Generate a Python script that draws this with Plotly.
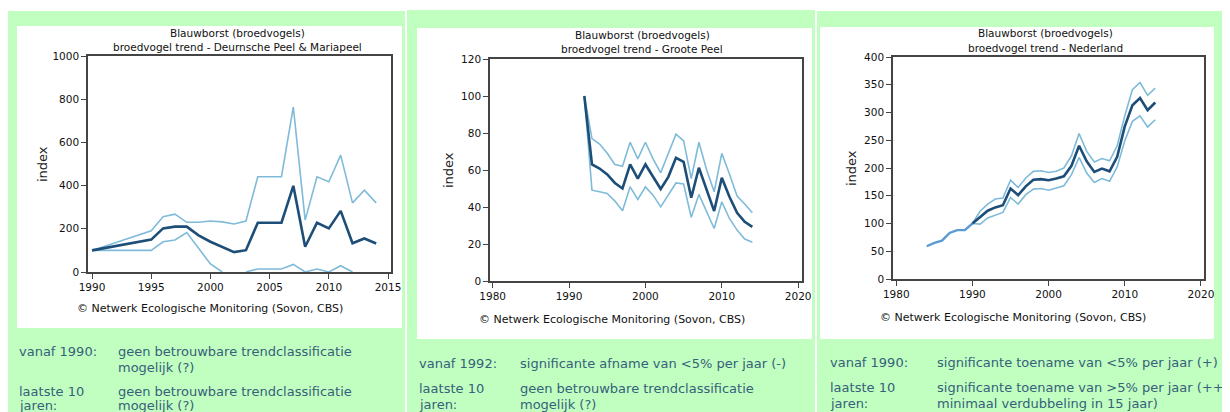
import plotly.graph_objects as go

W, H = 1230, 412
# the page body adds an 8px margin; draw everything 8px up/left to compensate
OFFX, OFFY = 8, 8

# ---------------- data ----------------
p1_years = [1990, 1995, 1996, 1997, 1998, 1999, 2000, 2001, 2002, 2003, 2004, 2005,
            2006, 2007, 2008, 2009, 2010, 2011, 2012, 2013, 2014]
p1_main = [100, 150, 202, 210, 210, 170, 140, 115, 92, 101, 228, 228, 228, 399, 117,
           228, 202, 283, 133, 155, 132]
p1_upper = [100, 191, 256, 268, 230, 230, 236, 232, 222, 236, 441, 441, 441, 764, 240,
            441, 418, 541, 320, 379, 320]
# None = below the axis (not visible in the chart)
p1_lower = [100, 100, 140, 148, 183, 108, 37, 0, None, 0, 14, 14, 14, 35, 0, 14, 0, 29, 0,
            None, None]

p2_years = list(range(1992, 2015))
p2_main = [100, 63, 60.8, 57.6, 53, 50, 63, 55.4, 63, 56.3, 49.7, 56.3, 66.6, 64.4, 45,
           61.2, 49.1, 37.8, 55.8, 45.5, 36.9, 32, 29.3]
p2_upper = [100, 77, 74, 69, 63, 62, 75, 66, 75, 66, 58.5, 69, 79.4, 75.7, 55.4, 75, 60.3,
            48.2, 69, 57.8, 45.9, 41.6, 36.9]
p2_lower = [100, 49.1, 48.2, 47.3, 43.2, 38, 50.9, 44.1, 50.9, 46.4, 40.1, 46.4, 53, 52.4,
            34.4, 46.8, 37.4, 28.4, 42.8, 33.8, 27.5, 22.7, 20.9]

p3_years = list(range(1984, 2015))
p3_main = [59, 65, 69, 83, 88, 88, 100, 111, 123, 129, 133, 163, 151, 167, 179, 180, 178,
           181, 185, 204, 240, 212, 193, 199, 194, 220, 275, 313, 326, 304, 318]
p3_ci_years = list(range(1990, 2015))
p3_upper = [100, 122, 135, 144, 146, 178, 165, 182, 194, 195, 192, 194, 200, 222, 262, 230,
            211, 217, 213, 240, 294, 341, 354, 331, 344]
p3_lower = [100, 99, 110, 115, 120, 147, 135, 152, 162, 163, 160, 164, 168, 188, 219, 191,
            174, 181, 176, 202, 249, 284, 294, 274, 287]

title_top = "Blauwborst (broedvogels)"
subtitles = ["broedvogel trend - Deurnsche Peel & Mariapeel",
             "broedvogel trend - Groote Peel",
             "broedvogel trend - Nederland"]
copyright_txt = "© Netwerk Ecologische Monitoring (Sovon, CBS)"

# ---------------- style ----------------
DARK = "#1d4e78"
LIGHT = "#7fbbd9"
EARLY = "#5b9bd5"
GREEN = "#c0ffc0"
TXT = "#37607a"
FONT = "DejaVu Sans"

def fx(px):
    return (px - OFFX) / W

def fy(py):
    return 1 - (py - OFFY) / H

fig = go.Figure()

panels = [
    dict(l=88, r=391, t=56, b=272, xr=[1989.66, 2015.25], yr=[0, 1000],
         xt=[1990, 1995, 2000, 2005, 2010, 2015], yt=list(range(0, 1001, 200))),
    dict(l=490, r=802, t=59, b=281, xr=[1979.65, 2020.5], yr=[0, 120],
         xt=[1980, 1990, 2000, 2010, 2020], yt=list(range(0, 121, 20))),
    dict(l=893, r=1204, t=57, b=279, xr=[1979.57, 2020.4], yr=[0, 400],
         xt=[1980, 1990, 2000, 2010, 2020], yt=list(range(0, 401, 50))),
]

series = [
    (p1_years, p1_main, p1_years, p1_upper, p1_lower),
    (p2_years, p2_main, p2_years, p2_upper, p2_lower),
    (p3_years, p3_main, p3_ci_years, p3_upper, p3_lower),
]

for i, (pn, (yrs, main, cyrs, up, lo)) in enumerate(zip(panels, series), start=1):
    xa = "x" if i == 1 else f"x{i}"
    ya = "y" if i == 1 else f"y{i}"
    fig.add_trace(go.Scatter(x=cyrs, y=up, mode="lines", line=dict(color=LIGHT, width=1.6),
                             xaxis=xa, yaxis=ya, showlegend=False, hoverinfo="skip"))
    fig.add_trace(go.Scatter(x=cyrs, y=lo, mode="lines", line=dict(color=LIGHT, width=1.6),
                             connectgaps=False,
                             xaxis=xa, yaxis=ya, showlegend=False, hoverinfo="skip"))
    if i == 3:
        n_early = p3_years.index(1990) + 1
        fig.add_trace(go.Scatter(x=yrs[:n_early], y=main[:n_early], mode="lines",
                                 line=dict(color=EARLY, width=2.4),
                                 xaxis=xa, yaxis=ya, showlegend=False, hoverinfo="skip"))
        k = n_early - 1
        fig.add_trace(go.Scatter(x=yrs[k:], y=main[k:], mode="lines",
                                 line=dict(color=DARK, width=2.6),
                                 xaxis=xa, yaxis=ya, showlegend=False, hoverinfo="skip"))
    else:
        fig.add_trace(go.Scatter(x=yrs, y=main, mode="lines", line=dict(color=DARK, width=2.6),
                                 xaxis=xa, yaxis=ya, showlegend=False, hoverinfo="skip"))

    axcommon = dict(showline=True, mirror=True, linecolor="#444", linewidth=1.5,
                    ticks="outside", ticklen=5, tickcolor="#444", tickwidth=1,
                    showgrid=False, zeroline=False, fixedrange=True, automargin=False,
                    tickfont=dict(family=FONT, size=10.5, color="#111"))
    fig.update_layout(**{
        ("xaxis" if i == 1 else f"xaxis{i}"): dict(
            domain=[fx(pn["l"]), fx(pn["r"])], range=pn["xr"], tickvals=pn["xt"],
            anchor=ya, **axcommon),
        ("yaxis" if i == 1 else f"yaxis{i}"): dict(
            domain=[fy(pn["b"]), fy(pn["t"])], range=pn["yr"], tickvals=pn["yt"],
            anchor=xa, **axcommon),
    })

# ---------------- background boxes ----------------
shapes = []
greens = [(7, 11, 405, 430), (407, 10, 815, 430), (817, 11, 1250, 430)]
whites = [(17, 26, 402, 328), (417, 28, 812, 339), (820, 27, 1214, 339)]
for (x0, y0, x1, y1) in greens:
    shapes.append(dict(type="rect", xref="paper", yref="paper", x0=fx(x0), x1=fx(x1),
                       y0=fy(y1), y1=fy(y0), fillcolor=GREEN, line=dict(width=0),
                       layer="below"))
for (x0, y0, x1, y1) in whites:
    shapes.append(dict(type="rect", xref="paper", yref="paper", x0=fx(x0), x1=fx(x1),
                       y0=fy(y1), y1=fy(y0), fillcolor="white", line=dict(width=0),
                       layer="below"))

# ---------------- annotations ----------------
ann = []

def text(x, y, s, size=10.5, color="#111", xanchor="left", angle=0):
    ann.append(dict(x=fx(x), y=fy(y), xref="paper", yref="paper", text=s, showarrow=False,
                    xanchor=xanchor, yanchor="middle", textangle=angle,
                    font=dict(family=FONT, size=size, color=color)))

title_cx = [237, 642, 1045]
title_y = [(33, 47), (35, 49), (33, 48)]
index_pos = [(42, 164), (448, 170), (851, 168)]
copy_pos = [(75, 308), (477, 319), (878, 317)]
for k in range(3):
    text(title_cx[k], title_y[k][0], title_top, xanchor="center")
    text(title_cx[k], title_y[k][1], subtitles[k], xanchor="center")
    text(index_pos[k][0], index_pos[k][1], "index", size=13, color="#222",
         xanchor="center", angle=-90)
    text(copy_pos[k][0], copy_pos[k][1], copyright_txt, size=11, color="#111")

label_rows = [
    (17, 116, [(351, "vanaf 1990:", "geen betrouwbare trendclassificatie"),
               (367, "", "mogelijk (?)"),
               (391, "laatste 10", "geen betrouwbare trendclassificatie"),
               (405, "jaren:", "mogelijk (?)")]),
    (417, 518, [(363, "vanaf 1992:", "significante afname van <5% per jaar (-)"),
                (388, "laatste 10", "geen betrouwbare trendclassificatie"),
                (404, "jaren:", "mogelijk (?)")]),
    (828, 935, [(362, "vanaf 1990:", "significante toename van <5% per jaar (+)"),
                (387, "laatste 10", "significante toename van >5% per jaar (++,"),
                (403, "jaren:", "minimaal verdubbeling in 15 jaar)")]),
]
for lx, vx, rows in label_rows:
    for (yy, lab, val) in rows:
        if lab:
            text(lx, yy, lab, size=13, color=TXT)
        if val:
            text(vx, yy, val, size=13, color=TXT)

fig.update_layout(
    width=W, height=H,
    margin=dict(l=0, r=0, t=0, b=0, pad=0, autoexpand=False),
    paper_bgcolor="white", plot_bgcolor="rgba(0,0,0,0)",
    shapes=shapes, annotations=ann, showlegend=False,
    font=dict(family=FONT),
)

fig.write_html("out.html", config={"displayModeBar": False})
